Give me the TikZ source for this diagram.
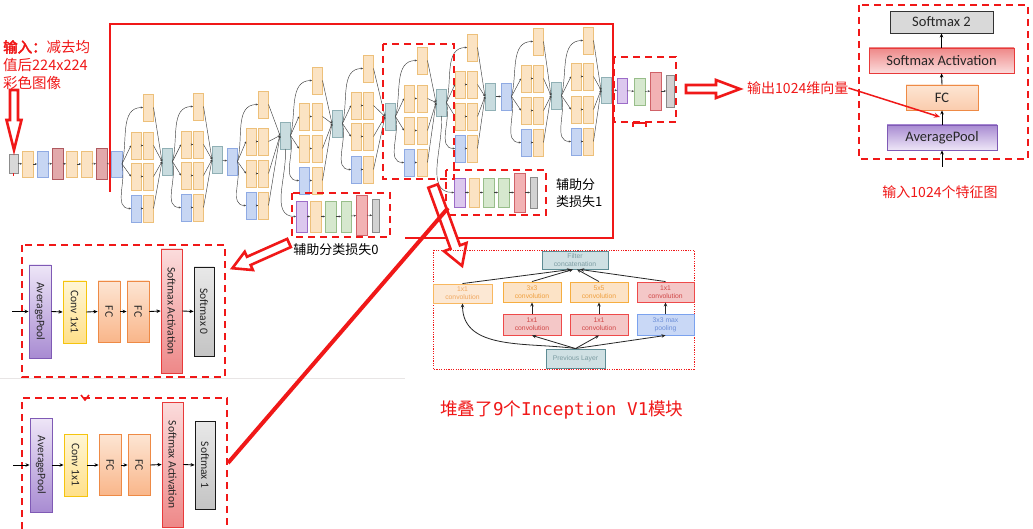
\documentclass[tikz,border=0pt]{standalone}
\usepackage{fontspec}
\setmainfont{Carlito}
\newfontfamily\cjk{Noto Sans CJK SC}
\newfontfamily\cjkb{Noto Sans CJK SC}[FakeBold=3]
\newfontfamily\monof{DejaVu Sans Mono}
\newfontfamily\arialf{Liberation Sans}
\usetikzlibrary{arrows.meta}
\definecolor{myred}{HTML}{F01818}
\definecolor{cvF}{HTML}{FBE3C3}\definecolor{cvD}{HTML}{EDC07A}
\definecolor{mpF}{HTML}{C7D6F3}\definecolor{mpD}{HTML}{8FAAE3}
\definecolor{ccF}{HTML}{C9DCDF}\definecolor{ccD}{HTML}{90B0B5}
\definecolor{lrF}{HTML}{E2A9AB}\definecolor{lrD}{HTML}{B05A60}
\definecolor{inF}{HTML}{D8D8D8}\definecolor{inD}{HTML}{8C8C8C}
\definecolor{apF}{HTML}{DCC8EE}\definecolor{apD}{HTML}{9C6CC8}
\definecolor{fcF}{HTML}{D6E8CE}\definecolor{fcD}{HTML}{98BE8A}
\definecolor{smF}{HTML}{F2B2B4}\definecolor{smD}{HTML}{D06268}
\definecolor{sxF}{HTML}{D2D2D2}\definecolor{sxD}{HTML}{8A8A8A}
% detail colours
\definecolor{apDk}{HTML}{A88BD2}\definecolor{apLt}{HTML}{EEE6F7}\definecolor{apBd}{HTML}{7F5AB5}
\definecolor{cyDk}{HTML}{FFE08A}\definecolor{cyLt}{HTML}{FFF6D5}\definecolor{cyBd}{HTML}{F5C40E}
\definecolor{foDk}{HTML}{F9B68A}\definecolor{foLt}{HTML}{FDE5D3}\definecolor{foBd}{HTML}{EE8A45}
\definecolor{sdDk}{HTML}{EE8888}\definecolor{sdLt}{HTML}{FBDCDC}\definecolor{sdBd}{HTML}{E83A3A}
\definecolor{sgDk}{HTML}{C4C4C4}\definecolor{sgLt}{HTML}{E8E8E8}\definecolor{sgBd}{HTML}{1A1A1A}
% inception detail colours
\definecolor{tlF}{HTML}{CFE0E3}\definecolor{tlD}{HTML}{5E8C94}\definecolor{tlT}{HTML}{7C9CA2}
\definecolor{o1F}{HTML}{FCE8D4}\definecolor{o1D}{HTML}{F8B860}\definecolor{o1T}{HTML}{F0A860}
\definecolor{o2F}{HTML}{FCE3C6}\definecolor{o2D}{HTML}{F6AE40}\definecolor{o2T}{HTML}{EFA040}
\definecolor{r1F}{HTML}{F4C7C7}\definecolor{r1D}{HTML}{EE4A4A}\definecolor{r1T}{HTML}{D04848}
\definecolor{b1F}{HTML}{C9D8F6}\definecolor{b1D}{HTML}{7BA2EE}\definecolor{b1T}{HTML}{6D8FD8}

\tikzset{
  nb/.style={draw, line width=0.5pt, inner sep=0pt, outer sep=0pt},
  cv/.style={nb, fill=cvF, draw=cvD},
  mp/.style={nb, fill=mpF, draw=mpD},
  cc/.style={nb, fill=ccF, draw=ccD},
  lr/.style={nb, fill=lrF, draw=lrD},
  ig/.style={nb, fill=inF, draw=inD},
  ap/.style={nb, fill=apF, draw=apD},
  gfc/.style={nb, fill=fcF, draw=fcD},
  sa/.style={nb, fill=smF, draw=smD},
  sx/.style={nb, fill=sxF, draw=sxD},
  nl/.style={draw=black!75, line width=0.45pt, -{Stealth[length=2.2pt,width=2pt]}},
  rdash/.style={draw=myred, line width=2.2pt, dash pattern=on 7pt off 5pt},
  harr/.style={draw=myred, line width=2.6pt, fill=white, line join=miter},
  dbox/.style={draw, line width=0.9pt, inner sep=0pt, rotate=-90, font=\fontsize{11.5}{13}\selectfont, text=black!85},
  dap/.style={dbox, draw=apBd, bottom color=apDk, top color=apLt},
  dcy/.style={dbox, draw=cyBd, bottom color=cyDk, top color=cyLt},
  dfo/.style={dbox, draw=foBd, bottom color=foDk, top color=foLt},
  dsd/.style={dbox, draw=sdBd, bottom color=sdDk, top color=sdLt},
  dsg/.style={dbox, draw=sgBd, bottom color=sgDk, top color=sgLt},
  darr/.style={draw=black, line width=0.9pt, -{Stealth[length=4pt,width=3.5pt]}},
  rbox/.style={draw, line width=0.9pt, inner sep=0pt, font=\fontsize{14.5}{16}\selectfont, text=black!85},
  ibox/.style={draw, line width=0.9pt, inner sep=0pt, align=center, font=\arialf\fontsize{6.8}{7.8}\selectfont},
  iarr/.style={draw=black!85, line width=0.8pt, -{Stealth[length=4pt,width=3.5pt]}},
  rtext/.style={text=myred, inner sep=0pt},
}
\newcommand\bx[6]{\node[#2, minimum width=#5pt, minimum height=#6pt] (#1) at ({#3+#5/2},{#4+#6/2}) {};}
\newcommand\incm[9]{%
  \bx{#1t}{cv}{#3}{#4}{10.5}{27}
  \bx{#1a}{cv}{#2}{#5}{10.5}{27}
  \bx{#1b}{cv}{#3}{#5}{10.5}{27}
  \bx{#1c}{cv}{#2}{#6}{10.5}{27}
  \bx{#1d}{cv}{#3}{#6}{10.5}{27}
  \bx{#1e}{mp}{#2}{#7}{10.5}{27}
  \bx{#1f}{cv}{#3}{#7}{10.5}{27}
  \draw[nl] (#8.east) to[out=75,in=180] (#1t.west);
  \draw[nl] (#8.east) -- (#1a.west);
  \draw[nl] (#8.east) -- (#1c.west);
  \draw[nl] (#8.east) to[out=-75,in=180] (#1e.west);
  \draw[nl] (#1a) -- (#1b);
  \draw[nl] (#1c) -- (#1d);
  \draw[nl] (#1e) -- (#1f);
  \draw[nl] (#1t.east) -- (#9.west);
  \draw[nl] (#1b.east) -- (#9.west);
  \draw[nl] (#1d.east) -- (#9.west);
  \draw[nl] (#1f.east) -- (#9.west);
}
\newcommand\harrow[7]{\begin{scope}[shift={(#1,#2)},rotate=#3]
  \draw[harr] (0,#5) -- ({#4-#7},#5) -- ({#4-#7},#6) -- (#4,0) -- ({#4-#7},-#6) -- ({#4-#7},-#5) -- (0,-#5) -- cycle;
\end{scope}}

\begin{document}
\begin{tikzpicture}[x=1pt,y=-1pt]
\useasboundingbox (0,0) rectangle (1033,529);
\fill[white] (0,0) rectangle (1033,529);

% ---------- main network ----------
\bx{s0}{ig}{9}{154}{9}{19}
\bx{s1}{cv}{22}{151}{11}{26}
\bx{s2}{mp}{37}{151}{11}{26}
\bx{s3}{lr}{52}{148}{11}{31}
\bx{s4}{cv}{66}{151}{11}{26}
\bx{s5}{cv}{81}{151}{11}{26}
\bx{s6}{lr}{96}{148}{11}{31}
\bx{p0}{mp}{111}{151}{11}{26}
\draw[nl] (s0) -- (s1);
\draw[nl] (s1) -- (s2);
\draw[nl] (s2) -- (s3);
\draw[nl] (s3) -- (s4);
\draw[nl] (s4) -- (s5);
\draw[nl] (s5) -- (s6);
\draw[nl] (s6) -- (p0);

\bx{c1}{cc}{162}{148}{10.5}{27}
\bx{c2}{cc}{212}{146}{10.5}{27}
\bx{p1}{mp}{227}{148}{10.5}{27}
\bx{c3}{cc}{280}{122}{10.5}{27}
\bx{c4}{cc}{332}{110}{10.5}{27}
\bx{c5}{cc}{385}{103}{10.5}{27}
\bx{c6}{cc}{436}{89}{10.5}{27}
\bx{c7}{cc}{485}{83}{10.5}{27}
\bx{p2}{mp}{501}{83}{10.5}{27}
\bx{c8}{cc}{551}{82}{10.5}{27}
\bx{c9}{cc}{601}{77}{10.5}{26}
\draw[nl] (c2) -- (p1);
\draw[nl] (c7) -- (p2);

\incm{ma}{131}{143}{94}{132}{163}{195}{p0}{c1}
\incm{mb}{181}{193}{93}{131}{162}{194}{c1}{c2}
\incm{mc}{246}{258}{91}{128}{160}{192}{p1}{c3}
\incm{md}{299}{312}{67}{103}{135}{167}{c3}{c4}
\incm{me}{351}{363}{55}{92}{123}{156}{c4}{c5}
\incm{mf}{404}{417}{47}{85}{117}{149}{c5}{c6}
\incm{mg}{455}{467}{34}{71}{103}{135}{c6}{c7}
\incm{mh}{521}{533}{28}{65}{97}{129}{p2}{c8}
\incm{mi}{571}{583}{27}{63}{96}{128}{c8}{c9}

% final classifier
\bx{fp}{ap}{617}{78}{10}{25}
\bx{fgc}{gfc}{634}{78}{11}{27}
\bx{fs}{sa}{650}{72}{11}{38}
\bx{fx}{sx}{666}{75}{8}{32}
\draw[nl] (c9) -- (fp);
\draw[nl] (fp) -- (fgc);
\draw[nl] (fgc) -- (fs);
\draw[nl] (fs) -- (fx);

% aux 0
\bx{a0p}{ap}{296}{201}{11}{31}
\bx{a0o}{cv}{310}{201}{11}{31}
\bx{a0g}{gfc}{325}{201}{11}{31}
\bx{a0h}{gfc}{341}{201}{10}{31}
\bx{a0s}{sa}{356}{195}{11}{40}
\bx{a0x}{sx}{372}{199}{7.5}{33}
\draw[nl] (c3.south) to[out=-85,in=180] (a0p.west);
\draw[nl] (a0p) -- (a0o);
\draw[nl] (a0o) -- (a0g);
\draw[nl] (a0g) -- (a0h);
\draw[nl] (a0h) -- (a0s);
\draw[nl] (a0s) -- (a0x);

% aux 1
\bx{a1p}{ap}{454}{178}{11}{29}
\bx{a1o}{cv}{469}{178}{10.5}{29}
\bx{a1g}{gfc}{483}{178}{11}{29}
\bx{a1h}{gfc}{498}{178}{11}{29}
\bx{a1s}{sa}{514}{173}{11}{39}
\bx{a1x}{sx}{530}{177}{7.5}{31}
\draw[nl] (c6.south) to[out=-85,in=180] (a1p.west);
\draw[nl] (a1p) -- (a1o);
\draw[nl] (a1o) -- (a1g);
\draw[nl] (a1g) -- (a1h);
\draw[nl] (a1h) -- (a1s);
\draw[nl] (a1s) -- (a1x);

% big red frame
\draw[draw=myred, line width=2pt] (110,192) -- (110,24) -- (613,24) -- (613,238) -- (405,238);

% dashed boxes
\draw[rdash] (383,44) rectangle (454,179);
\draw[rdash] (292,193) rectangle (390,237);
\draw[rdash] (446,170) rectangle (546,215);
\draw[rdash] (614,57) rectangle (676,122);
\draw[rdash] (22,245) rectangle (225,377);
\draw[rdash] (22,529) -- (22,398) -- (227,398) -- (227,529);
\draw[rdash] (859,5) rectangle (1028,159);

% faint separator
\draw[draw=red!8!black!10, line width=1pt] (0,378.5) -- (405,378.5);

% small red marks
\draw[myred, line width=2pt] (633,127) -- (633,123) -- (646,123) -- (646,127);
\draw[myred, line width=1.5pt] (81,395) -- (85,400) -- (89,395);
\draw[myred, line width=1.2pt] (13.5,173.5) -- (13.5,176.5);

% hollow arrows
\harrow{14}{90}{-90}{60}{4}{7.5}{30}
\harrow{686}{89}{0}{54}{4}{9}{24}
\harrow{433}{186}{-70}{85}{5}{12}{20}
\harrow{289}{243}{-156}{62}{4.5}{10}{18}

% thick red line
\coordinate (rl1) at (448,208);
\coordinate (rl2) at (228,463);
\draw[myred, line width=4pt] (rl1) -- (rl2);

% ---------- texts ----------
\node[rtext, anchor=west, font=\fontsize{14.5}{17}\selectfont] (t1) at (3,47) {{\cjkb 输入：}\cjk 减去均};
\node[rtext, anchor=west, font=\fontsize{14.5}{17}\selectfont\cjk] (t2) at (3,65) {值后224x224};
\node[rtext, anchor=west, font=\fontsize{14.5}{17}\selectfont\cjk] (t3) at (3,83) {彩色图像};
\node[rtext, anchor=west, font=\fontsize{14}{16}\selectfont\cjk] (outtxt) at (747,88) {输出1024维向量};
\node[rtext, font=\fontsize{14}{16}\selectfont\cjk] (intxt) at (940,192) {输入1024个特征图};
\node[rtext, anchor=west, font=\fontsize{17.6}{20}\selectfont\cjk] (stack) at (440,410) {堆叠了{\monof 9}个{\monof Inception V1}模块};
\node[inner sep=0pt, font=\fontsize{13}{15}\selectfont\cjk] (aux0lab) at (336,250) {辅助分类损失0};
\node[inner sep=0pt, anchor=west, align=left, font=\fontsize{13}{17}\selectfont\cjk] (aux1lab) at (556,193.5) {辅助分\\类损失1};

% ---------- right panel ----------
\node[rbox, draw=black!80, fill=black!15, minimum width=103pt, minimum height=22pt] (sm2) at (941.5,22) {Softmax 2};
\node[rbox, draw=sdBd, top color=sdDk, bottom color=sdLt, minimum width=145pt, minimum height=25pt] (sma) at (941.5,60.5) {Softmax Activation};
\node[rbox, draw=foBd, top color=foLt, bottom color=foDk!70!white, minimum width=72pt, minimum height=25pt] (rfc) at (942,97.5) {FC};
\node[rbox, draw=apBd, top color=apDk, bottom color=apLt, minimum width=110pt, minimum height=25pt] (rap) at (942,137.5) {AveragePool};
\coordinate (rin) at (942,167);
\draw[darr] (rin) -- (rap.south);
\draw[darr] (rap.north) -- (rfc.south);
\draw[darr] (rfc.north) -- (sma.south);
\draw[darr] (sma.north) -- (sm2.south);
\coordinate (rfcin) at (940,117);
\draw[myred, line width=1.5pt, -{Stealth[length=6pt,width=5pt]}] (outtxt.east) -- (rfcin);

% ---------- bottom-left details ----------
\node[dap, minimum width=93pt, minimum height=22pt] (d0ap) at (40,311.5) {AveragePool};
\node[dcy, minimum width=62pt, minimum height=23pt] (d0cv) at (74.5,312) {Conv 1x1};
\node[dfo, minimum width=61pt, minimum height=22pt] (d0f1) at (109,311.5) {FC};
\node[dfo, minimum width=61pt, minimum height=22pt] (d0f2) at (138,311.5) {FC};
\node[dsd, minimum width=124pt, minimum height=21pt] (d0sa) at (171.5,311) {Softmax Activation};
\node[dsg, minimum width=89pt, minimum height=20pt] (d0sx) at (204,311.5) {Softmax 0};
\coordinate (d0in) at (12,311.5);
\draw[darr] (d0in) -- (d0ap.south);
\draw[darr] (d0ap.north) -- (d0cv.south);
\draw[darr] (d0cv.north) -- (d0f1.south);
\draw[darr] (d0f1.north) -- (d0f2.south);
\draw[darr] (d0f2.north) -- (d0sa.south);
\draw[darr] (d0sa.north) -- (d0sx.south);

\node[dap, minimum width=94pt, minimum height=22pt] (d1ap) at (41,465) {AveragePool};
\node[dcy, minimum width=62pt, minimum height=23pt] (d1cv) at (75.5,465) {Conv 1x1};
\node[dfo, minimum width=61pt, minimum height=22pt] (d1f1) at (110,465) {FC};
\node[dfo, minimum width=61pt, minimum height=22pt] (d1f2) at (139,465) {FC};
\node[dsd, minimum width=125pt, minimum height=21pt] (d1sa) at (172.5,464.5) {Softmax Activation};
\node[dsg, minimum width=88pt, minimum height=20pt] (d1sx) at (205,465) {Softmax 1};
\coordinate (d1in) at (13,465);
\draw[darr] (d1in) -- (d1ap.south);
\draw[darr] (d1ap.north) -- (d1cv.south);
\draw[darr] (d1cv.north) -- (d1f1.south);
\draw[darr] (d1f1.north) -- (d1f2.south);
\draw[darr] (d1f2.north) -- (d1sa.south);
\draw[darr] (d1sa.north) -- (d1sx.south);

% ---------- inception detail ----------
\draw[myred, line width=0.9pt, dash pattern=on 1.2pt off 1.2pt] (433,250) rectangle (694,369);
\node[ibox, fill=tlF, draw=tlD, text=tlT, minimum width=66pt, minimum height=18pt] (fcat) at (575,260) {Filter\\concatenation};
\node[ibox, fill=o1F, draw=o1D, text=o1T, minimum width=59pt, minimum height=19pt] (i1) at (462.5,293.5) {1x1\\convolution};
\node[ibox, fill=o2F, draw=o2D, text=o2T, minimum width=58pt, minimum height=20pt] (i2) at (532,292) {3x3\\convolution};
\node[ibox, fill=o2F, draw=o2D, text=o2T, minimum width=58pt, minimum height=20pt] (i3) at (599,292) {5x5\\convolution};
\node[ibox, fill=r1F, draw=r1D, text=r1T, minimum width=57pt, minimum height=20pt] (i4) at (665.5,292) {1x1\\convolution};
\node[ibox, fill=r1F, draw=r1D, text=r1T, minimum width=58pt, minimum height=21pt] (j2) at (532,324.5) {1x1\\convolution};
\node[ibox, fill=r1F, draw=r1D, text=r1T, minimum width=58pt, minimum height=21pt] (j3) at (599,324.5) {1x1\\convolution};
\node[ibox, fill=b1F, draw=b1D, text=b1T, minimum width=57pt, minimum height=21pt] (j4) at (665.5,324.5) {3x3 max\\pooling};
\node[ibox, fill=tlF, draw=tlD, text=tlT, minimum width=59pt, minimum height=19pt] (prev) at (575.5,358.5) {Previous Layer};
\draw[iarr] (prev.north) to[out=172,in=-90] (i1.south);
\draw[iarr] (prev.north) -- (j2.south);
\draw[iarr] (prev.north) -- (j3.south);
\draw[iarr] (prev.north) -- (j4.south);
\draw[iarr] (j2) -- (i2);
\draw[iarr] (j3) -- (i3);
\draw[iarr] (j4) -- (i4);
\draw[iarr] (i1.north) -- ([xshift=-4pt]fcat.south);
\draw[iarr] (i2.north) -- ([xshift=-2pt]fcat.south);
\draw[iarr] (i3.north) -- ([xshift=2pt]fcat.south);
\draw[iarr] (i4.north) -- ([xshift=5pt]fcat.south);
\end{tikzpicture}
\end{document}
